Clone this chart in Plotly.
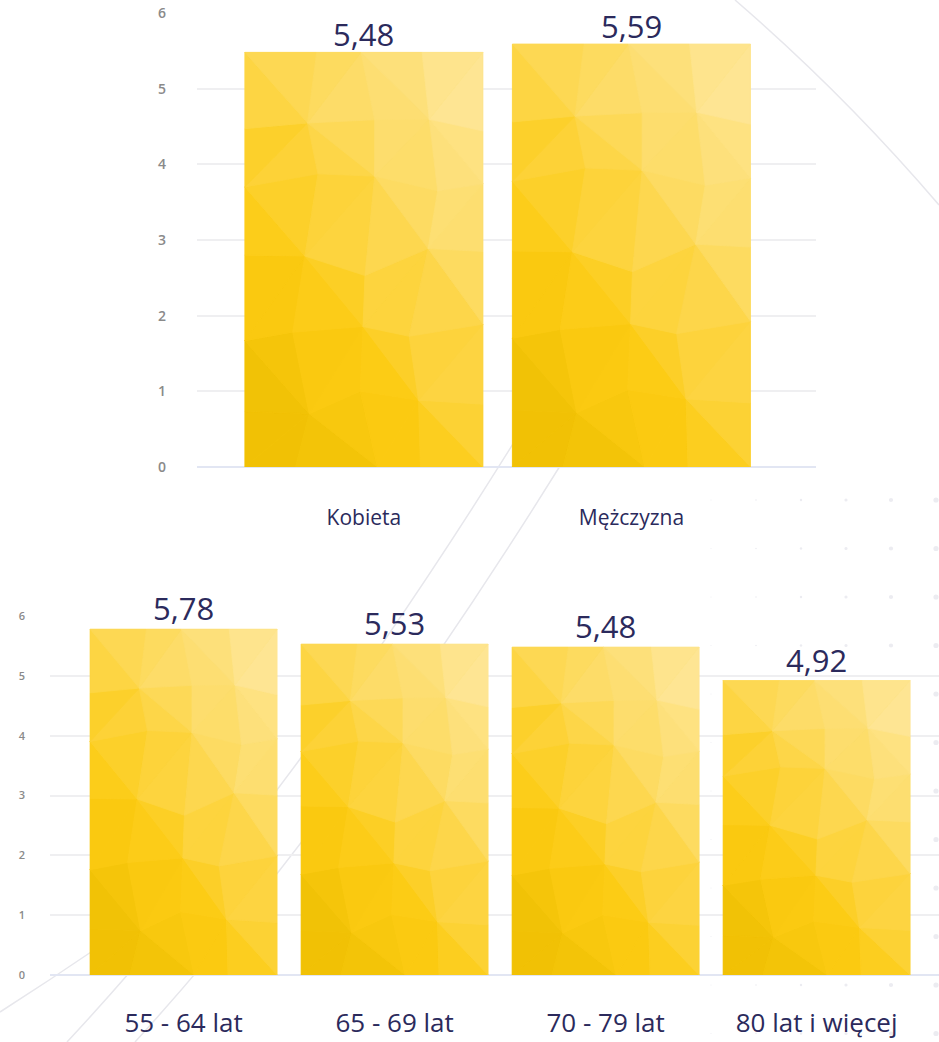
import math
import plotly.graph_objects as go

# ---- data ----
gender_labels = ["Kobieta", "Mężczyzna"]
gender_values = [5.48, 5.59]

age_labels = ["55 - 64 lat", "65 - 69 lat", "70 - 79 lat", "80 lat i więcej"]
age_values = [5.78, 5.53, 5.48, 4.92]

y_ticks = [0, 1, 2, 3, 4, 5, 6]

# ---- page geometry (pixels) ----
W, H = 939, 1042
FONT = "Open Sans"
INK = "#2b2a5c"
TICK_GREY = "#8a8a8a"


def px_x(p):
    return p / W


def px_y(p):
    return 1 - p / H


# ---- low-poly yellow fill for the bars ----
STOPS = [(0.0, (236, 189, 0)), (0.35, (252, 203, 18)),
         (0.62, (253, 217, 88)), (1.0, (254, 232, 160))]


def ramp(t):
    t = max(0.0, min(1.0, t))
    for (t0, c0), (t1, c1) in zip(STOPS[:-1], STOPS[1:]):
        if t <= t1:
            f = (t - t0) / (t1 - t0)
            return "rgb(%d,%d,%d)" % tuple(round(a + (b - a) * f) for a, b in zip(c0, c1))
    return "rgb(%d,%d,%d)" % STOPS[-1][1]


def wobble(i, k, s):
    v = math.sin(i * 12.9898 + k * 78.233 + s * 3.17) * 43758.5453
    return (v - math.floor(v)) - 0.5


def facet_shapes(xc, width, value, xref, yref, ncol=4, nrow=6):
    shapes = []
    x0 = xc - width / 2
    pts = {}
    for i in range(ncol + 1):
        for k in range(nrow + 1):
            u = i / ncol
            v = k / nrow
            if 0 < i < ncol:
                u += wobble(i, k, 1) * 0.5 / ncol
            if 0 < k < nrow:
                v += wobble(i, k, 2) * 0.5 / nrow
            pts[(i, k)] = (u, v)
    for i in range(ncol):
        for k in range(nrow):
            a, b = pts[(i, k)], pts[(i + 1, k)]
            c, d = pts[(i + 1, k + 1)], pts[(i, k + 1)]
            tris = [(a, b, c), (a, c, d)] if (i + k) % 2 == 0 else [(a, b, d), (b, c, d)]
            for n, tri in enumerate(tris):
                cu = sum(p[0] for p in tri) / 3
                cv = sum(p[1] for p in tri) / 3
                tone = 0.45 * cu + 0.55 * cv + 0.07 * wobble(i * 2 + n, k, 5)
                col = ramp(tone)
                path = "M " + " L ".join(
                    "%.5f,%.5f" % (x0 + p[0] * width, p[1] * value) for p in tri) + " Z"
                shapes.append(dict(type="path", path=path, xref=xref, yref=yref,
                                   fillcolor=col, line=dict(color=col, width=0.8),
                                   layer="above"))
    return shapes


# ---- figure ----
BAR_W_TOP = 0.89
BAR_W_BOT = 0.886

fig = go.Figure()
fig.add_trace(go.Bar(x=list(range(len(gender_values))), y=gender_values, width=BAR_W_TOP,
                     marker=dict(color="#fcd54a", line=dict(width=0)),
                     xaxis="x", yaxis="y", hoverinfo="skip", showlegend=False))
fig.add_trace(go.Bar(x=list(range(len(age_values))), y=age_values, width=BAR_W_BOT,
                     marker=dict(color="#fcd54a", line=dict(width=0)),
                     xaxis="x2", yaxis="y2", hoverinfo="skip", showlegend=False))

shapes = []

# faint background arcs
line_col = "#e7e7ec"
arcs = [
    [(735, 0), (845, 95), (939, 205)],
    [(600, 300), (330, 760), (67, 1042)],
    [(660, 300), (392, 760), (135, 1042)],
    [(0, 1012), (50, 980), (100, 946)],
]
for (ax0, ay0), (cx, cy), (ax1, ay1) in arcs:
    shapes.append(dict(type="path", xref="paper", yref="paper", layer="below",
                       path="M %.5f,%.5f Q %.5f,%.5f %.5f,%.5f" % (
                           px_x(ax0), px_y(ay0), px_x(cx), px_y(cy), px_x(ax1), px_y(ay1)),
                       line=dict(color=line_col, width=1.5)))

# faint dot grid on the right side
dot_cols = [711, 756, 801, 846, 891, 936]
dot_r = [0.5, 0.8, 1.2, 1.6, 2.1, 2.6]
for ci, dx in enumerate(dot_cols):
    for ri in range(12):
        dy = 500 + ri * 48.5
        r = dot_r[ci]
        shapes.append(dict(type="circle", xref="paper", yref="paper", layer="below",
                           x0=px_x(dx - r), x1=px_x(dx + r),
                           y0=px_y(dy + r), y1=px_y(dy - r),
                           fillcolor="#ececf1", line=dict(width=0)))

for i, v in enumerate(gender_values):
    shapes += facet_shapes(i, BAR_W_TOP, v, "x", "y")
for i, v in enumerate(age_values):
    shapes += facet_shapes(i, BAR_W_BOT, v, "x2", "y2")

annotations = []
for i, v in enumerate(gender_values):
    annotations.append(dict(x=i, y=v, xref="x", yref="y", text=f"{v:.2f}".replace(".", ","),
                            showarrow=False, yanchor="middle", yshift=18,
                            font=dict(family=FONT, size=31, color=INK)))
for i, v in enumerate(age_values):
    annotations.append(dict(x=i, y=v, xref="x2", yref="y2", text=f"{v:.2f}".replace(".", ","),
                            showarrow=False, yanchor="middle", yshift=21,
                            font=dict(family=FONT, size=31, color=INK)))

grid = dict(range=[0, 6], tickvals=y_ticks, showgrid=True, gridcolor="#efeff1", gridwidth=2,
            zeroline=True, zerolinecolor="#e2e6f3", zerolinewidth=2, showline=False,
            ticks="", fixedrange=True, automargin=False)

fig.update_layout(
    width=W, height=H,
    margin=dict(l=0, r=0, t=0, b=0, autoexpand=False),
    paper_bgcolor="white", plot_bgcolor="rgba(0,0,0,0)",
    showlegend=False,
    xaxis=dict(domain=[px_x(197), px_x(816)], range=[-0.624, 1.69], anchor="y",
               tickvals=list(range(len(gender_labels))), ticktext=gender_labels,
               showgrid=False, zeroline=False, showline=False, ticks="",
               ticklabelstandoff=36, automargin=False,
               tickfont=dict(family=FONT, size=21, color=INK)),
    yaxis=dict(domain=[px_y(467), px_y(13)], anchor="x", ticklabelstandoff=30,
               tickfont=dict(family=FONT, size=14, color=TICK_GREY, weight=600), **grid),
    xaxis2=dict(domain=[px_x(50), 1.0], range=[-0.633, 3.58], anchor="y2",
                tickvals=list(range(len(age_labels))), ticktext=age_labels,
                showgrid=False, zeroline=False, showline=False, ticks="",
                ticklabelstandoff=30, automargin=False,
                tickfont=dict(family=FONT, size=26, color=INK)),
    yaxis2=dict(domain=[px_y(975), px_y(616)], anchor="x2", ticklabelstandoff=24,
                tickfont=dict(family=FONT, size=11, color=TICK_GREY, weight=600), **grid),
    shapes=shapes,
    annotations=annotations,
)

fig.write_html("out.html")
